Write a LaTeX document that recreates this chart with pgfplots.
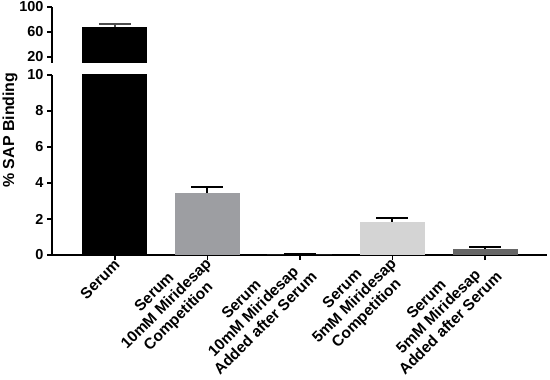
\documentclass[border=0pt]{standalone}
\usepackage{pgfplots}
\pgfplotsset{compat=1.18}
\usepackage{fontspec}
\setmainfont{Liberation Sans}
\definecolor{barA}{HTML}{000000}
\definecolor{barB}{HTML}{9D9EA2}
\definecolor{barC}{HTML}{1A1A1A}
\definecolor{barD}{HTML}{D4D4D4}
\definecolor{barE}{HTML}{666666}
\pgfplotstableread{
x y e
0 68.0 4.5
1 3.44 0.36
2 0.05 0.02
3 1.86 0.22
4 0.33 0.11
}\datatab
\begin{document}
\begin{tikzpicture}[x=1bp,y=1bp]
\path[use as bounding box] (0,0) rectangle (550,379);
\pgfplotsset{
  brk/.style={
    scale only axis,
    width=495bp,
    xmin=-0.68, xmax=4.67,
    axis line style={line width=2pt},
    tick style={line width=1.8pt, black},
    major tick length=5bp,
    tick align=outside,
    ticklabel style={font=\bfseries\fontsize{14.5}{16}\selectfont},
    /pgf/number format/assume math mode=true,
    ytick pos=left,
  },
  barsty/.style={ybar, bar width=65bp, bar shift=0pt, draw=none, fill=#1},
  errsty/.style={error bars/.cd, y dir=plus, y explicit, error mark options={rotate=90, mark size=16bp, line width=2pt, #1}, error bar style={line width=2pt, #1}},
}
% lower axis
\begin{axis}[brk,
  at={(52bp,124bp)}, anchor=south west,
  height=180bp,
  ymin=0, ymax=10,
  ytick={0,2,4,6,8,10},
  axis x line*=bottom, axis y line*=left,
  xtick={0,1,2,3,4},
  xticklabels={Serum, {Serum\\10mM Miridesap\\Competition}, {Serum\\10mM Miridesap\\Added after Serum}, {Serum\\5mM Miridesap\\Competition}, {Serum\\5mM Miridesap\\Added after Serum}},
  xticklabel style={rotate=45, anchor=east, align=center, font=\bfseries\fontsize{15.5}{17.2}\selectfont, inner sep=0bp, yshift=-3bp},
  ylabel={\% SAP Binding},
  ylabel style={font=\bfseries\fontsize{16}{17}\selectfont, at={(axis description cs:-0.085,0.694)}, anchor=center},
]
\addplot[barsty=barA] table[x=x,y=y, restrict expr to domain={\thisrow{x}}{0:0}] {\datatab};
\addplot[barsty=barB, errsty=black] table[x=x,y=y,y error=e, restrict expr to domain={\thisrow{x}}{1:1}] {\datatab};
\addplot[barsty=barC, errsty=black] table[x=x,y=y,y error=e, restrict expr to domain={\thisrow{x}}{2:2}] {\datatab};
\addplot[barsty=barD, errsty=black] table[x=x,y=y,y error=e, restrict expr to domain={\thisrow{x}}{3:3}] {\datatab};
\addplot[barsty=barE, errsty=black] table[x=x,y=y,y error=e, restrict expr to domain={\thisrow{x}}{4:4}] {\datatab};
\end{axis}
% upper axis
\begin{axis}[brk,
  at={(52bp,316bp)}, anchor=south west,
  height=56bp,
  ymin=10, ymax=100,
  ytick={20,60,100},
  axis y line*=left, axis x line=none,
  xtick=\empty,
]
\addplot[barsty=barA, errsty=black!70] table[x=x,y=y,y error=e, restrict expr to domain={\thisrow{x}}{0:0}] {\datatab};
\end{axis}
\end{tikzpicture}
\end{document}
